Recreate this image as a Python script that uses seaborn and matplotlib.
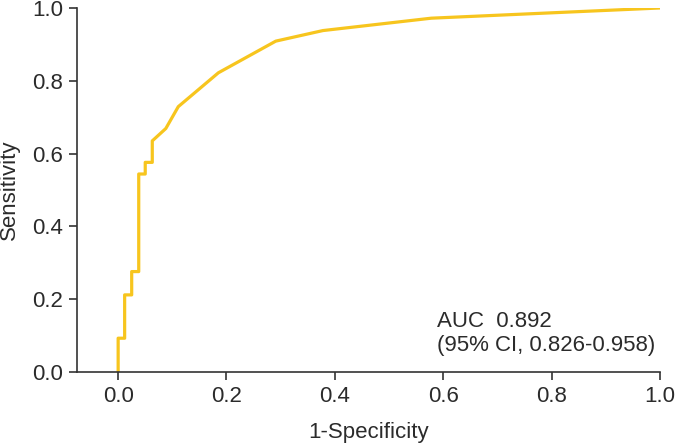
import numpy as np
import pandas as pd
import matplotlib
matplotlib.use("Agg")
import matplotlib.pyplot as plt
import seaborn as sns

fpr = [0.0, 0.0, 0.012, 0.012, 0.025, 0.025, 0.038, 0.038, 0.050, 0.050,
       0.063, 0.063, 0.088, 0.111, 0.185, 0.291, 0.378, 0.578, 1.0]
tpr = [0.0, 0.093, 0.093, 0.212, 0.212, 0.276, 0.276, 0.544, 0.544, 0.576,
       0.576, 0.635, 0.669, 0.729, 0.822, 0.909, 0.938, 0.972, 1.0]
ticks = [0.0, 0.2, 0.4, 0.6, 0.8, 1.0]
auc_line = "AUC  0.892"
ci_line = "(95% CI, 0.826-0.958)"

df = pd.DataFrame({"fpr": fpr, "tpr": tpr})

sns.set_theme(style="ticks")
plt.rcParams["font.family"] = ["Liberation Sans", "DejaVu Sans"]

TXT = "#2b2b2b"
FS = 16

fig = plt.figure(figsize=(6.77, 4.44), dpi=100)
ax = fig.add_axes([0.1137, 0.162, 0.861, 0.82])

sns.lineplot(data=df, x="fpr", y="tpr", sort=False, estimator=None,
             color="#F7C51E", linewidth=2.3, ax=ax)

ax.set_xlim(-0.076, 1.0)
ax.set_ylim(0.0, 1.0)
ax.set_xticks(ticks)
ax.set_yticks(ticks)
ax.set_xticklabels([f"{t:.1f}" for t in ticks], fontsize=FS, color=TXT)
ax.set_yticklabels([f"{t:.1f}" for t in ticks], fontsize=FS, color=TXT)
ax.tick_params(direction="out", length=6, width=1.2, color="#333333", pad=4)
ax.set_xlabel("1-Specificity", fontsize=FS, color=TXT, labelpad=11)
ax.set_ylabel("Sensitivity", fontsize=FS, color=TXT, labelpad=9)

sns.despine(ax=ax)
for side in ["left", "bottom"]:
    ax.spines[side].set_linewidth(1.2)
    ax.spines[side].set_color("#333333")

ax.text(0.588, 0.124, auc_line, fontsize=FS, color=TXT, ha="left", va="baseline")
ax.text(0.588, 0.058, ci_line, fontsize=FS, color=TXT, ha="left", va="baseline")

fig.savefig("out.png", dpi=100)
